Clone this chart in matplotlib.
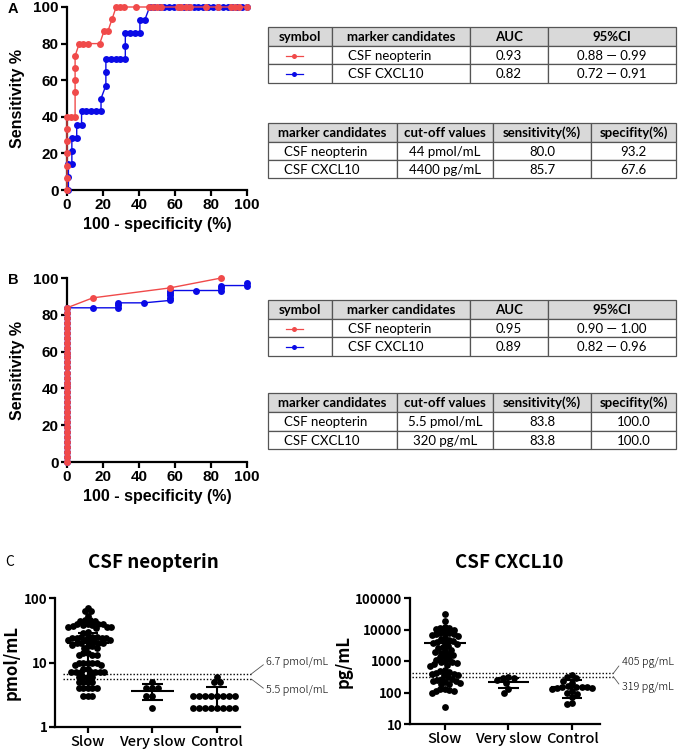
import matplotlib
matplotlib.use('Agg')
import matplotlib.pyplot as plt
import numpy as np
from matplotlib.patches import Rectangle

# ---------------- DATA ----------------
# Panel A ROC
rocA_neo_x = [0, 0, 0, 0, 0, 0, 0, 2.3, 4.5, 4.5, 4.5, 4.5, 4.5, 6.8, 9.1, 11.4, 18.2, 20.5, 22.7, 25.0,
              27.3, 29.5, 31.8, 38.6, 45.5, 47.7, 50.0, 52.3, 61.4, 63.6, 65.9, 68.2, 77.3, 84.1, 90.9, 93.2, 95.5, 100]
rocA_neo_y = [0, 6.7, 13.3, 20, 26.7, 33.3, 40, 40, 40, 53.3, 60, 66.7, 73.3, 80, 80, 80, 80, 86.7, 86.7, 93.3,
              100, 100, 100, 100, 100, 100, 100, 100, 100, 100, 100, 100, 100, 100, 100, 100, 100, 100]
rocA_cx_x = [0.8, 0.8, 0.8, 2.7, 2.7, 2.7, 5.4, 5.4, 8.1, 8.1, 10.8, 13.5, 16.2, 18.9, 18.9, 21.6, 21.6, 21.6,
             24.3, 27.0, 29.7, 32.4, 32.4, 32.4, 35.1, 37.8, 40.5, 40.5, 43.2, 45.9, 48.6, 51.4, 54.1, 56.8,
             59.5, 62.2, 64.9, 67.6, 70.3, 73.0, 75.7, 78.4, 81.1, 83.8, 86.5, 89.2, 91.9, 94.6, 97.3, 100]
rocA_cx_y = [0, 7.1, 14.3, 14.3, 21.4, 28.6, 28.6, 35.7, 35.7, 42.9, 42.9, 42.9, 42.9, 42.9, 50, 57.1, 64.3, 71.4,
             71.4, 71.4, 71.4, 71.4, 78.6, 85.7, 85.7, 85.7, 85.7, 92.9, 92.9, 100, 100, 100, 100, 100,
             100, 100, 100, 100, 100, 100, 100, 100, 100, 100, 100, 100, 100, 100, 100, 100]

# Panel B ROC
rocB_neo_x = [0] * 32 + [14.3, 57.1, 85.7]
rocB_neo_y = [0, 2.7, 5.4, 8.1, 10.8, 13.5, 16.2, 18.9, 21.6, 24.3, 27.0, 29.7, 32.4, 35.1, 37.8, 40.5,
              43.2, 45.9, 48.6, 51.4, 54.1, 56.8, 59.5, 62.2, 64.9, 67.6, 70.3, 73.0, 75.7, 78.4, 81.1, 83.8,
              89.2, 94.6, 100]
rocB_cx_x = [0] * 32 + [14.3, 28.6, 28.6, 28.6, 42.9, 57.1, 57.1, 57.1, 57.1, 57.1, 71.4, 85.7, 85.7, 85.7,
                        100, 100]
rocB_cx_y = [0, 2.7, 5.4, 8.1, 10.8, 13.5, 16.2, 18.9, 21.6, 24.3, 27.0, 29.7, 32.4, 35.1, 37.8, 40.5,
             43.2, 45.9, 48.6, 51.4, 54.1, 56.8, 59.5, 62.2, 64.9, 67.6, 70.3, 73.0, 75.7, 78.4, 81.1, 83.8,
             83.8, 83.8, 85.1, 86.5, 86.5, 87.8, 89.2, 90.5, 91.9, 93.2, 93.2, 93.2, 94.6, 95.9, 95.9, 97.3]

# Tables
tbl1_header = ["symbol", "marker candidates", "AUC", "95%CI"]
tbl1_markers = ["CSF neopterin", "CSF CXCL10"]
tblA1_auc = ["0.93", "0.82"]
tblA1_ci = ["0.88 \u2014 0.99", "0.72 \u2014 0.91"]
tblB1_auc = ["0.95", "0.89"]
tblB1_ci = ["0.90 \u2014 1.00", "0.82 \u2014 0.96"]
tbl2_header = ["marker candidates", "cut-off values", "sensitivity(%)", "specifity(%)"]
tblA2_cut = ["44 pmol/mL", "4400 pg/mL"]
tblA2_sens = ["80.0", "85.7"]
tblA2_spec = ["93.2", "67.6"]
tblB2_cut = ["5.5 pmol/mL", "320 pg/mL"]
tblB2_sens = ["83.8", "83.8"]
tblB2_spec = ["100.0", "100.0"]

# Panel C
groups = ["Slow", "Very slow", "Control"]
neo_slow = [70, 62, 62, 52, 46, 45, 44, 44, 40, 40, 39, 39, 38, 38, 37, 36, 35, 35, 34, 30, 29,
            25, 25, 25, 25, 24, 24, 24, 24, 22, 22, 22, 21, 21, 20, 20, 20, 20, 19, 18, 18, 17, 17,
            14, 14, 13, 13, 13, 10, 10, 10, 10, 10, 9, 9, 8, 8, 7, 7, 7, 7, 7, 7, 7,
            6, 6, 6, 6, 5, 5, 5, 5, 4, 4, 4, 4, 4, 3, 3, 3]
neo_vslow = [5, 4, 4, 4, 3, 3, 2]
neo_ctrl = [6, 5, 5, 3, 3, 3, 3, 3, 3, 3, 3, 2, 2, 2, 2, 2, 2, 2, 2]
neo_center = [20, 3.6, 3.0]
neo_low = [4.2, 2.6, 1.9]
neo_high = [29, 4.6, 4.2]
neo_cutoffs = [6.7, 5.5]
neo_cut_labels = ["6.7 pmol/mL", "5.5 pmol/mL"]

cx_slow = [30000, 18000, 12000, 11500, 11000, 10500, 10000, 8000, 7800, 7500, 7200, 7000, 6500, 6000,
           5500, 5000, 4500, 4200, 4000, 3800, 3600, 3400, 3000, 2800, 2500, 2300, 2100, 2000, 1800,
           1700, 1500, 1400, 1300, 1200, 1100, 1000, 950, 900, 850, 800, 750, 700, 500, 480, 450, 420,
           400, 380, 360, 350, 300, 270, 260, 250, 240, 230, 220, 200, 190, 180, 130, 125, 120, 115,
           110, 100, 35]
cx_vslow = [300, 290, 280, 250, 200, 130, 100]
cx_ctrl = [350, 300, 280, 240, 200, 160, 155, 150, 150, 145, 140, 135, 130, 110, 100, 90, 70, 45, 42]
cx_center = [3800, 210, 150]
cx_low = [3800, 140, 65]
cx_high = [8800, 290, 246]
cx_cutoffs = [405, 319]
cx_cut_labels = ["405 pg/mL", "319 pg/mL"]

# ---------------- STYLE ----------------
RED = '#f04a4a'
BLUE = '#0a0ae6'
W, H = 681, 753
plt.rcParams['font.family'] = ['Liberation Sans', 'DejaVu Sans']
fig = plt.figure(figsize=(W / 100, H / 100), dpi=100)


def box(x0, y0, x1, y1):
    return [x0 / W, 1 - y1 / H, (x1 - x0) / W, (y1 - y0) / H]


def style_axes(ax, fs=11):
    for s in ['top', 'right']:
        ax.spines[s].set_visible(False)
    for s in ['left', 'bottom']:
        ax.spines[s].set_linewidth(1.6)
    ax.tick_params(width=1.6, length=4, labelsize=fs, pad=2)
    for lab in ax.get_xticklabels() + ax.get_yticklabels():
        lab.set_fontweight('bold')


def roc_axes(rect, nx, ny, cx, cy, xlabel=True):
    ax = fig.add_axes(rect)
    ax.plot(cx, cy, '-o', color=BLUE, lw=1, ms=5, mec=BLUE, mew=0, clip_on=False, zorder=3)
    ax.plot(nx, ny, '-o', color=RED, lw=1, ms=5, mec=RED, mew=0, clip_on=False, zorder=4)
    ax.set_xlim(0, 100)
    ax.set_ylim(0, 100)
    ax.set_xticks([0, 20, 40, 60, 80, 100])
    ax.set_yticks([0, 20, 40, 60, 80, 100])
    style_axes(ax)
    ax.set_ylabel('Sensitivity %', fontsize=11.5, fontweight='bold', labelpad=6)
    if xlabel:
        ax.set_xlabel('100 - specificity (%)', fontsize=11.5, fontweight='bold', labelpad=3)
    return ax


axA = roc_axes(box(67, 7, 247, 190), rocA_neo_x, rocA_neo_y, rocA_cx_x, rocA_cx_y)
axB = roc_axes(box(67, 278, 247, 462), rocB_neo_x, rocB_neo_y, rocB_cx_x, rocB_cx_y)

# ---------------- TABLES ----------------
ov = fig.add_axes([0, 0, 1, 1])
ov.set_xlim(0, W)
ov.set_ylim(H, 0)
ov.axis('off')
TF = ['Lato', 'DejaVu Sans']


def draw_table(cols, rows, header, body, left_col=None, symbols=False):
    for r in range(len(rows) - 1):
        for c in range(len(cols) - 1):
            ov.add_patch(Rectangle((cols[c], rows[r]), cols[c + 1] - cols[c], rows[r + 1] - rows[r],
                                   facecolor='#d9d9d9' if r == 0 else 'white', edgecolor='#555555', lw=0.9))
    for c, t in enumerate(header):
        ov.text((cols[c] + cols[c + 1]) / 2, (rows[0] + rows[1]) / 2 + 0.5, t, ha='center', va='center',
                fontsize=9.5, fontweight='bold', family=TF)
    for r, rowvals in enumerate(body):
        yc = (rows[r + 1] + rows[r + 2]) / 2 + 0.5
        for c, t in enumerate(rowvals):
            if t is None:
                continue
            if c == left_col:
                ov.text(cols[c] + 16, yc, t, ha='left', va='center', fontsize=9.5, family=TF)
            else:
                ov.text((cols[c] + cols[c + 1]) / 2, yc, t, ha='center', va='center', fontsize=9.5, family=TF)
        if symbols:
            col = RED if r == 0 else BLUE
            xm = (cols[0] + cols[1]) / 2
            ov.plot([xm - 14, xm + 3], [yc, yc], color=col, lw=0.9)
            ov.plot([xm - 6], [yc], 'o', color=col, ms=3.6, mew=0)


colsT1 = [268, 332, 470, 548, 676]
colsT2 = [268, 397, 493, 591, 676]
draw_table(colsT1, [27, 46, 64, 83], tbl1_header,
           [[None, tbl1_markers[i], tblA1_auc[i], tblA1_ci[i]] for i in range(2)], left_col=1, symbols=True)
draw_table(colsT2, [123, 142, 160, 178], tbl2_header,
           [[tbl1_markers[i], tblA2_cut[i], tblA2_sens[i], tblA2_spec[i]] for i in range(2)], left_col=0)
draw_table(colsT1, [300, 319, 337, 356], tbl1_header,
           [[None, tbl1_markers[i], tblB1_auc[i], tblB1_ci[i]] for i in range(2)], left_col=1, symbols=True)
draw_table(colsT2, [393, 412, 431, 449], tbl2_header,
           [[tbl1_markers[i], tblB2_cut[i], tblB2_sens[i], tblB2_spec[i]] for i in range(2)], left_col=0)

# panel letters
ov.text(8, 9, 'A', fontsize=10.5, fontweight='bold', ha='left', va='center')
ov.text(8, 280, 'B', fontsize=10.5, fontweight='bold', ha='left', va='center')
CJK = ['Noto Sans CJK JP', 'DejaVu Sans']
ov.text(5, 562, 'C', fontsize=10, ha='left', va='center', family=CJK)
ov.text(153, 563, 'CSF neopterin', fontsize=13.5, fontweight='bold', ha='center', va='center', family=CJK)
ov.text(509, 563, 'CSF CXCL10', fontsize=13.5, fontweight='bold', ha='center', va='center', family=CJK)

# ---------------- PANEL C ----------------


def swarm(ax, xc, vals, d_px):
    pts = ax.transData.transform(np.column_stack([np.full(len(vals), float(xc)), vals]))
    ypx = pts[:, 1]
    unit = ax.transData.transform((xc + 1, vals[0]))[0] - ax.transData.transform((xc, vals[0]))[0]
    order = np.argsort(-ypx, kind='stable')
    placed = []
    offs = np.zeros(len(vals))
    for i in order:
        y = ypx[i]
        cands = [0.0]
        for (px_, py_) in placed:
            dy = y - py_
            if abs(dy) < d_px:
                dx = np.sqrt(d_px ** 2 - dy ** 2)
                cands += [px_ + dx, px_ - dx]
        cands = sorted(cands, key=lambda v: (abs(v), v))
        chosen = cands[-1]
        for c in cands:
            if all((c - px_) ** 2 + (y - py_) ** 2 >= d_px ** 2 - 1e-6 for px_, py_ in placed):
                chosen = c
                break
        placed.append((chosen, y))
        offs[i] = chosen
    return xc + offs / unit


def dot_panel(rect, xlim, ylim, ticks, ticklabels, data, center, low, high, cutoffs, cut_labels,
              ylabel, cut_x, lab_off, dsz):
    ax = fig.add_axes(rect)
    ax.set_yscale('log')
    ax.set_xlim(*xlim)
    ax.set_ylim(*ylim)
    ax.set_yticks(ticks)
    ax.set_yticklabels(ticklabels)
    ax.minorticks_off()
    ax.set_xticks([0, 1, 2])
    ax.set_xticklabels(groups, family=CJK, fontsize=10.5, fontweight='medium')
    for s in ['top', 'right']:
        ax.spines[s].set_visible(False)
    for s in ['left', 'bottom']:
        ax.spines[s].set_linewidth(1.6)
    ax.tick_params(width=1.6, length=4, pad=2)
    ax.tick_params(axis='y', labelsize=9.5, pad=1.5)
    for lab in ax.get_yticklabels():
        lab.set_fontweight('bold')
        lab.set_family(CJK)
    for g, vals in enumerate(data):
        xs = swarm(ax, g, np.array(vals, float), dsz[g])
        ax.scatter(xs, vals, s=24, color='black', linewidths=0, zorder=3, clip_on=False)
        ax.hlines(center[g], g - 0.33, g + 0.33, color='black', lw=1.5, zorder=4)
        ax.vlines(g, low[g], high[g], color='black', lw=1.5, zorder=4)
        caps = [high[g]] if low[g] >= center[g] else [low[g], high[g]]
        ax.hlines(caps, g - 0.16, g + 0.16, color='black', lw=1.5, zorder=4)
    for k, (cv, lab) in enumerate(zip(cutoffs, cut_labels)):
        ax.plot(cut_x, [cv, cv], color='black', lw=1.0, ls=(0, (1, 1.4)), clip_on=False, zorder=5)
        dy = 8 if k == 0 else -8
        ax.annotate(lab, xy=(cut_x[1], cv), xytext=(lab_off, dy), textcoords='offset points',
                    ha='left', va='center', fontsize=7.8, family=CJK, fontweight='light',
                    annotation_clip=False,
                    arrowprops=dict(arrowstyle='-', lw=0.6, color='#555555', shrinkA=0, shrinkB=0,
                                    relpos=(0, 0.5)))
    ax.set_ylabel(ylabel, family=CJK, fontsize=12, fontweight='bold', labelpad=2)
    return ax


axC1 = dot_panel(box(55, 598, 240, 727), (-0.51, 2.36), (1, 100), [1, 10, 100], ['1', '10', '100'],
                 [neo_slow, neo_vslow, neo_ctrl], neo_center, neo_low, neo_high, neo_cutoffs, neo_cut_labels,
                 'pmol/mL', [-0.39, 2.54], 10.5, [4.6, 6.0, 6.0])
axC2 = dot_panel(box(410, 598, 600, 724), (-0.55, 2.44), (10, 100000), [10, 100, 1000, 10000, 100000],
                 ['10', '100', '1000', '10000', '100000'],
                 [cx_slow, cx_vslow, cx_ctrl], cx_center, cx_low, cx_high, cx_cutoffs, cx_cut_labels,
                 'pg/mL', [-0.52, 2.65], 6, [4.6, 6.0, 5.4])

fig.savefig('out.png', dpi=100)
